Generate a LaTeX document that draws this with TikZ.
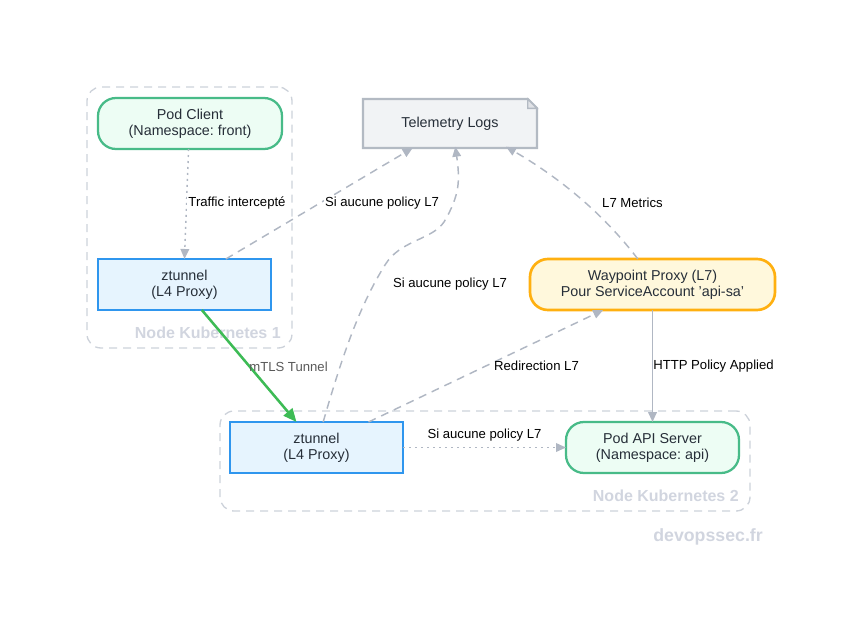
\documentclass[tikz,border=0pt]{standalone}
\usepackage{fontspec}
\setmainfont{Liberation Sans}
\usetikzlibrary{arrows.meta,calc}
\definecolor{edgec}{HTML}{B0B7C3}
\definecolor{clusterc}{HTML}{CDD2DA}
\definecolor{clabel}{HTML}{D1D5DF}
\definecolor{txt}{HTML}{262E38}
\definecolor{podf}{HTML}{EDFDF4}
\definecolor{podd}{HTML}{48BB88}
\definecolor{ztf}{HTML}{E6F4FE}
\definecolor{ztd}{HTML}{2F96EE}
\definecolor{wpf}{HTML}{FFF8DC}
\definecolor{wpd}{HTML}{FFB010}
\definecolor{telf}{HTML}{F1F3F5}
\definecolor{teld}{HTML}{B3BAC3}
\definecolor{greenc}{HTML}{3DBB55}
\tikzset{
  x=0.75pt,y=-0.75pt,
  box/.style={align=center,inner sep=0pt,outer sep=0pt,text=txt,font=\frenchspacing\fontsize{10.75pt}{12.2pt}\selectfont,line width=1.7pt},
  podbox/.style={box,draw=podd,fill=podf,rounded corners=13.5pt,minimum height=38.25pt},
  ztbox/.style={box,draw=ztd,fill=ztf,minimum width=129.75pt,minimum height=38.25pt},
  wpbox/.style={box,draw=wpd,fill=wpf,line width=2pt,rounded corners=13.5pt,minimum height=38.25pt},
  cluster/.style={draw=clusterc,line width=1pt,dash pattern=on 6pt off 4.5pt,rounded corners=10.5pt,inner sep=0pt,outer sep=0pt},
  clabeltext/.style={text=clabel,font=\bfseries\fontsize{12pt}{14pt}\selectfont,inner sep=0pt},
  elabel/.style={text=black,font=\fontsize{9.85pt}{11pt}\selectfont,inner sep=1pt,fill=white},
  tip/.style={-{Triangle[length=7.5pt,width=6.5pt]}},
  edge/.style={draw=edgec,line width=1.1pt,tip},
  dashedge/.style={edge,dash pattern=on 6pt off 4.5pt},
  dotedge/.style={edge,dash pattern=on 1.5pt off 3pt},
}
\begin{document}
\begin{tikzpicture}
\useasboundingbox (0,0) rectangle (852,628);
\node[cluster,minimum width=153.75pt,minimum height=195.75pt] (c1) at (189.5,217.5) {};
\node[cluster,minimum width=397.5pt,minimum height=75pt] (c2) at (485,461) {};
\node[clabeltext,anchor=base east] (c1l) at (281,338) {Node Kubernetes 1};
\node[clabeltext,anchor=base east] (c2l) at (739,501) {Node Kubernetes 2};
\node[clabeltext,font=\bfseries\fontsize{13.3pt}{15pt}\selectfont,anchor=base east] (brand) at (763,541) {devopssec.fr};

\node[podbox,minimum width=138pt] (client) at (190,123.5) {Pod Client\\(Namespace: front)};
\node[ztbox] (zt1) at (184.5,284.5) {ztunnel\\(L4 Proxy)};
\node[box,minimum width=130.5pt,minimum height=36.75pt] (tel) at (450,123.5) {Telemetry Logs};
\draw[draw=teld,fill=telf,line width=1.7pt,line join=miter]
  (tel.north west) -- ([xshift=-7pt]tel.north east) -- ([yshift=-7pt]tel.north east) -- (tel.south east) -- (tel.south west) -- cycle;
\draw[draw=teld,fill=white!60!teld,line width=1pt]
  ([xshift=-7pt]tel.north east) -- ([xshift=-7pt,yshift=-7pt]tel.north east) -- ([yshift=-7pt]tel.north east) -- cycle;
\node[box] at (tel) {Telemetry Logs};
\node[wpbox,minimum width=183.75pt] (wp) at (652.5,284.5) {Waypoint Proxy (L7)\\Pour ServiceAccount 'api-sa'};
\node[ztbox] (zt2) at (316.5,447.5) {ztunnel\\(L4 Proxy)};
\node[podbox,minimum width=129.75pt] (api) at (652.5,447.5) {Pod API Server\\(Namespace: api)};

\draw[dotedge] ([xshift=-1.1pt]client.south) -- (zt1.north);
\draw[dashedge] ([xshift=31pt]zt1.north) -- ([xshift=-28pt]tel.south);
\draw[dashedge] ([xshift=5pt]zt2.north) .. controls (343,353) and (360,305) .. (385,265)
   .. controls (400,240) and (432,240) .. (444,222)
   .. controls (460,195) and (460,180) .. ([xshift=4pt,yshift=1pt]tel.south);
\draw[dashedge] ([xshift=-11pt]wp.north) .. controls (612,225) and (572,185) .. ([xshift=42pt,yshift=1pt]tel.south);
\draw[dashedge] ([xshift=39pt]zt2.north) -- ([xshift=-37pt]wp.south);
\draw[dotedge] (zt2.east) -- (api.west);
\draw[edge,line width=1.35pt] (wp.south) -- (api.north);
\draw[draw=greenc,line width=1.9pt,-{Triangle[length=10pt,width=8.5pt]}] ([xshift=13pt]zt1.south) -- ([xshift=-15pt]zt2.north);

\node[elabel] (l1) at (237,203) {Traffic intercepté};
\node[elabel] (l2) at (382,203) {Si aucune policy L7};
\node[elabel] (l3) at (450,284) {Si aucune policy L7};
\node[elabel] (l4) at (632.5,203) {L7 Metrics};
\node[elabel,text=black!65,fill=none] (l5) at (288.5,366.5) {mTLS Tunnel};
\node[elabel,fill=none] (l6) at (536.5,366) {Redirection L7};
\node[elabel,fill=none] (l7) at (713.5,366) {HTTP Policy Applied};
\node[elabel] (l8) at (484.5,435.5) {Si aucune policy L7};
\end{tikzpicture}
\end{document}
